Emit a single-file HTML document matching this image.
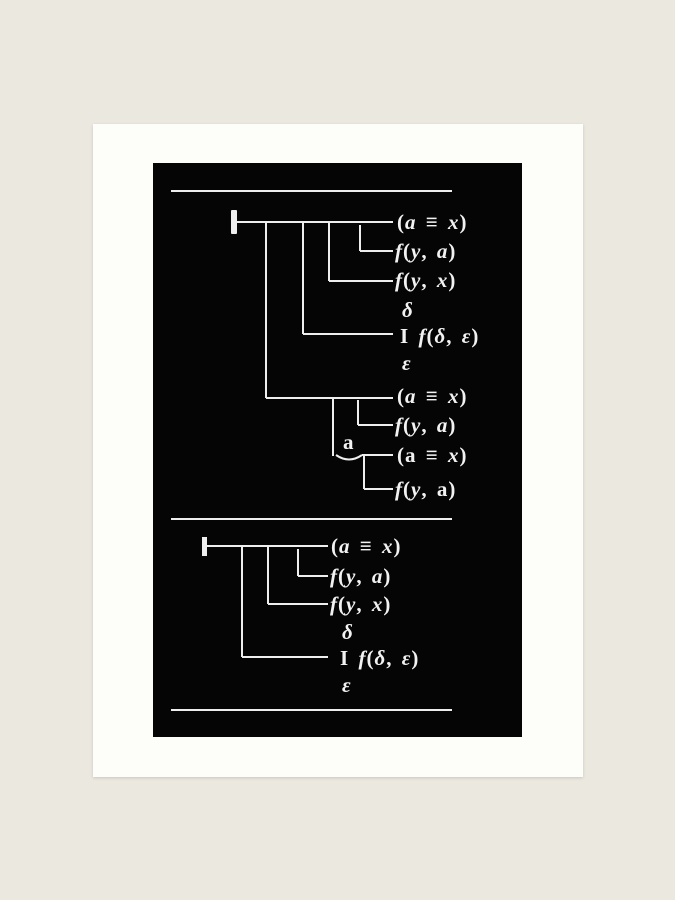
<!DOCTYPE html>
<html><head><style>
body{margin:0;width:675px;height:900px;background:#ebe8e0;overflow:hidden;position:relative}
.mat{position:absolute;left:93px;top:124px;width:490px;height:653px;background:#fdfdf9;box-shadow:0 1px 3px rgba(0,0,0,.15)}
.art{position:absolute;left:153px;top:163px;width:369px;height:574px;background:#050505}
svg{position:absolute;left:0;top:0}
text{font-family:"Liberation Serif",serif;font-weight:bold;font-size:21px;fill:#f2f2f2;letter-spacing:1px;word-spacing:3px}
</style></head><body>
<div class="mat"></div><div class="art"></div>
<svg width="675" height="900" stroke="#eee" stroke-width="2" fill="none">
<line x1="171" y1="191" x2="452" y2="191"/>
<rect x="231" y="210" width="6" height="24" fill="#eee" stroke="none" rx="1"/>
<line x1="234" y1="222" x2="393" y2="222"/>
<line x1="266" y1="222" x2="266" y2="398"/><line x1="266" y1="398" x2="393" y2="398"/>
<line x1="303" y1="222" x2="303" y2="334"/><line x1="303" y1="334" x2="393" y2="334"/>
<line x1="329" y1="222" x2="329" y2="281"/><line x1="329" y1="281" x2="393" y2="281"/>
<line x1="360" y1="225" x2="360" y2="251"/><line x1="360" y1="251" x2="393" y2="251"/>
<line x1="333" y1="399" x2="333" y2="456"/>
<path d="M336 455 Q349 464 362 455"/>
<line x1="362" y1="455" x2="393" y2="455"/>
<line x1="358" y1="400" x2="358" y2="425"/><line x1="358" y1="425" x2="393" y2="425"/>
<line x1="364" y1="456" x2="364" y2="489"/><line x1="364" y1="489" x2="393" y2="489"/>
<line x1="171" y1="519" x2="452" y2="519"/>
<rect x="202" y="537" width="5" height="19" fill="#eee" stroke="none"/>
<line x1="204" y1="546" x2="328" y2="546"/>
<line x1="242" y1="546" x2="242" y2="657"/><line x1="242" y1="657" x2="328" y2="657"/>
<line x1="268" y1="546" x2="268" y2="604"/><line x1="268" y1="604" x2="328" y2="604"/>
<line x1="298" y1="549" x2="298" y2="576"/><line x1="298" y1="576" x2="328" y2="576"/>
<line x1="171" y1="710" x2="452" y2="710"/>
<g stroke="none">
<text x="397" y="229">(<tspan font-style="italic">a</tspan> ≡ <tspan font-style="italic">x</tspan>)</text>
<text x="395" y="258"><tspan font-style="italic">f</tspan>(<tspan font-style="italic">y</tspan>, <tspan font-style="italic">a</tspan>)</text>
<text x="395" y="287"><tspan font-style="italic">f</tspan>(<tspan font-style="italic">y</tspan>, <tspan font-style="italic">x</tspan>)</text>
<text x="402" y="317" font-style="italic" font-size="19">δ</text>
<text x="400" y="343">I <tspan font-style="italic">f</tspan>(<tspan font-style="italic">δ</tspan>, <tspan font-style="italic">ε</tspan>)</text>
<text x="402" y="370" font-style="italic" font-size="19">ε</text>
<text x="397" y="403">(<tspan font-style="italic">a</tspan> ≡ <tspan font-style="italic">x</tspan>)</text>
<text x="395" y="432"><tspan font-style="italic">f</tspan>(<tspan font-style="italic">y</tspan>, <tspan font-style="italic">a</tspan>)</text>
<text x="343" y="449" font-size="15">a</text>
<text x="397" y="462">(a ≡ <tspan font-style="italic">x</tspan>)</text>
<text x="395" y="496"><tspan font-style="italic">f</tspan>(<tspan font-style="italic">y</tspan>, a)</text>
<text x="331" y="553">(<tspan font-style="italic">a</tspan> ≡ <tspan font-style="italic">x</tspan>)</text>
<text x="330" y="583"><tspan font-style="italic">f</tspan>(<tspan font-style="italic">y</tspan>, <tspan font-style="italic">a</tspan>)</text>
<text x="330" y="611"><tspan font-style="italic">f</tspan>(<tspan font-style="italic">y</tspan>, <tspan font-style="italic">x</tspan>)</text>
<text x="342" y="639" font-style="italic" font-size="19">δ</text>
<text x="340" y="665">I <tspan font-style="italic">f</tspan>(<tspan font-style="italic">δ</tspan>, <tspan font-style="italic">ε</tspan>)</text>
<text x="342" y="692" font-style="italic" font-size="19">ε</text>
</g>
</svg>
</body></html>
